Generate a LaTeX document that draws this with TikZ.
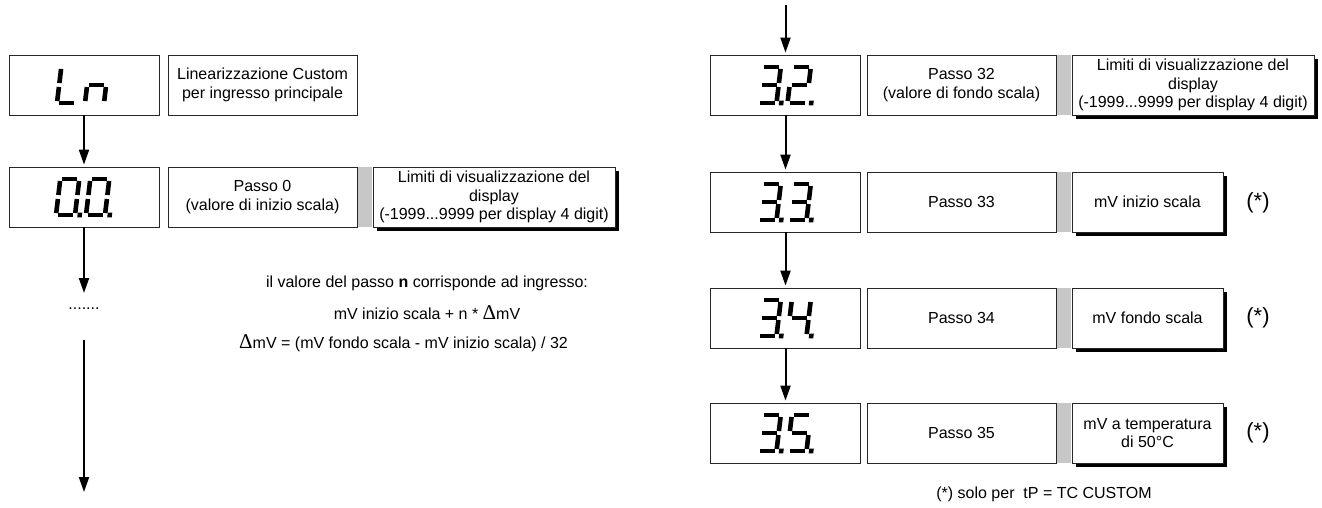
\documentclass[tikz,border=0pt]{standalone}
\usepackage{fontspec}
\setmainfont{Liberation Sans}
\newfontfamily\deltafont{Liberation Serif}
\usetikzlibrary{arrows.meta,shadows}

\newcommand{\bigdelta}{{\deltafont\fontsize{21}{18}\selectfont Δ}}
\newcommand{\segdigit}[2]{\begin{scope}[shift={#1},xslant=0.12]\pgfkeys{/seg7/.cd,#2}\end{scope}}

\tikzset{
  box/.style={draw=black!85, line width=0.8pt, fill=white, minimum height=60pt, inner sep=2pt, align=center, font=\fontsize{16}{18.5}\selectfont},
  dispbox/.style={box, minimum width=150pt},
  descbox/.style={box, minimum width=189pt},
  limbox/.style={box, minimum width=242pt, general shadow={fill=black, shadow xshift=4pt, shadow yshift=-4pt}},
  shortlim/.style={limbox, minimum width=151pt},
  strip/.style={fill=black!22},
  flow/.style={-{Triangle[length=15pt,width=10pt]}, line width=2pt, shorten >=2pt},
  seg/.style={line width=4.6pt},
  txt/.style={font=\fontsize{16}{18.5}\selectfont, inner sep=0pt},
  star/.style={font=\fontsize{22}{22}\selectfont, inner sep=0pt}
}

\pgfkeys{/seg7/.cd,
  a/.code={\draw[seg] (2,-36) -- (17,-36);},
  b/.code={\draw[seg] (19,-34) -- (19,-20);},
  c/.code={\draw[seg] (19,-16) -- (19,-2);},
  d/.code={\draw[seg] (2,0) -- (17,0);},
  e/.code={\draw[seg] (0,-2) -- (0,-16);},
  f/.code={\draw[seg] (0,-20) -- (0,-34);},
  g/.code={\draw[seg] (2,-18) -- (17,-18);},
  p/.code={\fill (21.5,2.3) rectangle (26,-2.3);}
}

\begin{document}
\begin{tikzpicture}[x=1pt,y=-1pt]
  \useasboundingbox (0,0) rectangle (1322,508);

  \node[dispbox] (ln) at (84,85) {};
  \node[descbox] (lndesc) at (262.5,85) {Linearizzazione Custom\\per ingresso principale};
  \segdigit{(57,103)}{d,e,f}
  \segdigit{(85,103)}{c,e,g}

  \node[dispbox] (d0) at (84,197) {};
  \node[descbox] (p0) at (262.5,197) {Passo 0\\(valore di inizio scala)};
  \node[limbox] (l0) at (494,197) {Limiti di visualizzazione del\\display\\(-1999...9999 per display 4 digit)};
  \fill[strip] ([xshift=0.4pt]p0.north east) rectangle ([xshift=-0.4pt]l0.south west);
  \segdigit{(56,215)}{a,b,c,d,e,f,p}
  \segdigit{(86,215)}{a,b,c,d,e,f,p}

  \draw[flow] (ln) -- (d0);
  \coordinate (gap1) at (84,295);
  \node[txt] (dots) at (84,309) {.......};
  \coordinate (gap2) at (84,340);
  \coordinate (bottom) at (84,494);
  \draw[flow] (d0) -- (gap1);
  \draw[flow] (gap2) -- (bottom);

  \node[txt] (rule1) at (427,283) {il valore del passo \textbf{n} corrisponde ad ingresso:};
  \node[txt] (rule2) at (427,313) {mV inizio scala + n * \bigdelta mV};
  \node[txt, anchor=west] (rule3) at (239,343) {\bigdelta mV = (mV fondo scala - mV inizio scala) / 32};

  \coordinate (top) at (785.5,5);
  \node[dispbox] (d32) at (785.5,85) {};
  \node[descbox] (p32) at (961.5,85) {Passo 32\\(valore di fondo scala)};
  \node[limbox] (l32) at (1193,85) {Limiti di visualizzazione del\\display\\(-1999...9999 per display 4 digit)};
  \fill[strip] ([xshift=0.4pt]p32.north east) rectangle ([xshift=-0.4pt]l32.south west);
  \segdigit{(757.5,103)}{a,b,c,d,g,p}
  \segdigit{(787.5,103)}{a,b,g,e,d,p}

  \node[dispbox] (d33) at (785.5,202) {};
  \node[descbox] (p33) at (961.5,202) {Passo 33};
  \node[shortlim] (l33) at (1147.5,202) {mV inizio scala};
  \fill[strip] ([xshift=0.4pt]p33.north east) rectangle ([xshift=-0.4pt]l33.south west);
  \segdigit{(757.5,220)}{a,b,c,d,g,p}
  \segdigit{(787.5,220)}{a,b,c,d,g,p}
  \node[star] (star33) at (1258,203) {(*)};

  \node[dispbox] (d34) at (785.5,318) {};
  \node[descbox] (p34) at (961.5,318) {Passo 34};
  \node[shortlim] (l34) at (1147.5,318) {mV fondo scala};
  \fill[strip] ([xshift=0.4pt]p34.north east) rectangle ([xshift=-0.4pt]l34.south west);
  \segdigit{(757.5,336)}{a,b,c,d,g,p}
  \segdigit{(787.5,336)}{f,g,b,c,p}
  \node[star] (star34) at (1258,318) {(*)};

  \node[dispbox] (d35) at (785.5,433) {};
  \node[descbox] (p35) at (961.5,433) {Passo 35};
  \node[shortlim] (l35) at (1147.5,433) {mV a temperatura\\di 50°C};
  \fill[strip] ([xshift=0.4pt]p35.north east) rectangle ([xshift=-0.4pt]l35.south west);
  \segdigit{(757.5,451)}{a,b,c,d,g,p}
  \segdigit{(787.5,451)}{a,f,g,c,d,p}
  \node[star] (star35) at (1258,433) {(*)};

  \draw[flow] (top) -- (d32);
  \draw[flow] (d32) -- (d33);
  \draw[flow] (d33) -- (d34);
  \draw[flow] (d34) -- (d35);

  \node[txt] (note) at (1044,494) {(*) solo per\ \ tP = TC CUSTOM};
\end{tikzpicture}
\end{document}
